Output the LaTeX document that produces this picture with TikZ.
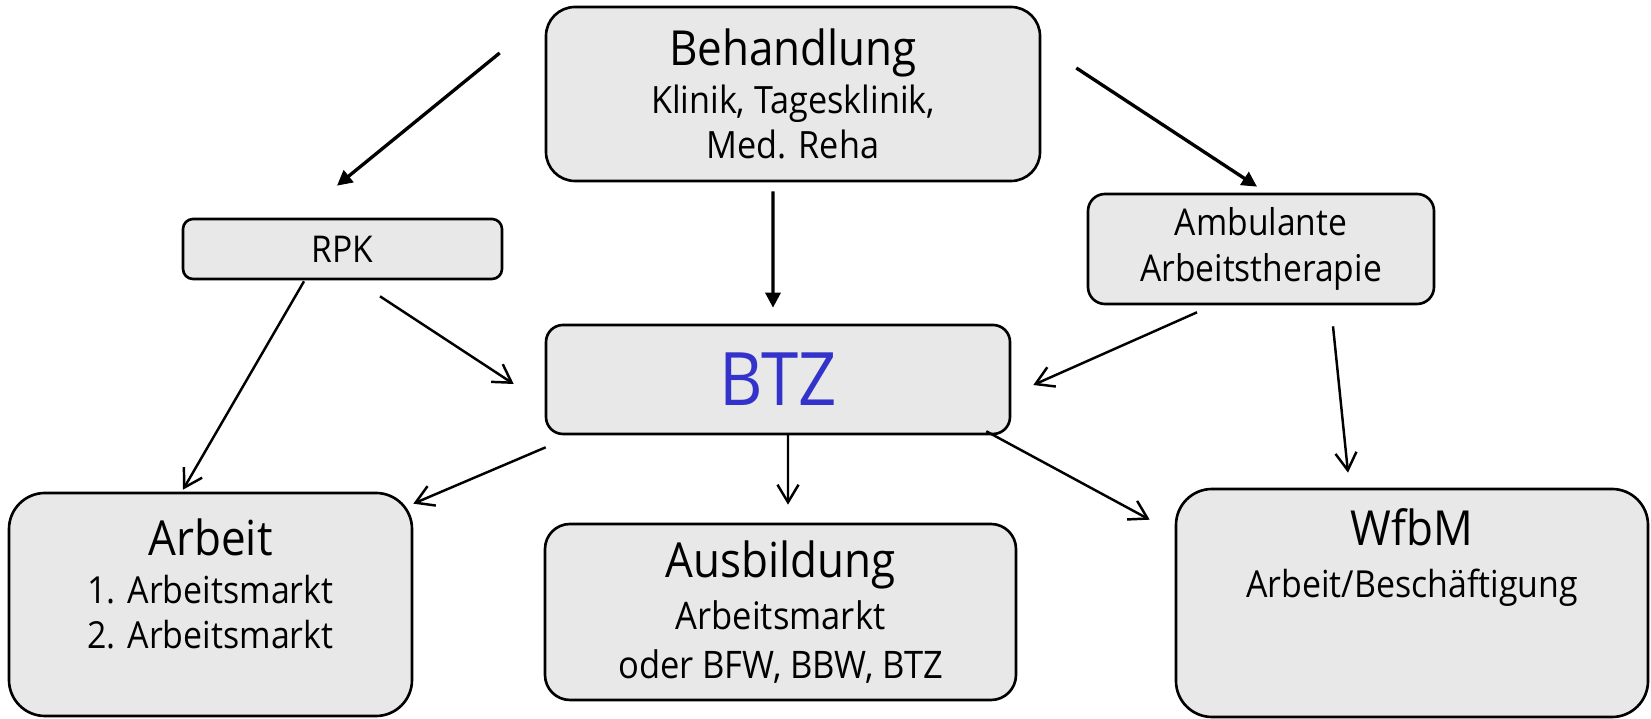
\documentclass[tikz,border=0pt]{standalone}
\usepackage{fontspec}
\setmainfont[FakeStretch=0.91]{Open Sans}
\usepackage{tikz}
\usepackage{xcolor}
\usetikzlibrary{arrows.meta}
\definecolor{boxgray}{RGB}{232,232,232}
\definecolor{btzblue}{RGB}{51,51,204}

\begin{document}
\begin{tikzpicture}[every node/.style={font=\fontsize{10.7}{13}\selectfont},
  box/.style={draw,line width=0.75pt,fill=boxgray,inner sep=0pt,align=center},
  mainarr/.style={line width=0.95pt,-{Triangle[length=4.3pt,width=4.3pt]}},
  subarr/.style={line width=0.7pt,-{Straight Barb[length=5pt,width=6pt]}}]
\useasboundingbox (0,0) rectangle (16.51,7.19);
\node[box,rounded corners=0.29cm,minimum width=4.94cm,minimum height=1.74cm] (beh) at (7.93,6.25) {{\fontsize{13.75}{16}\selectfont Behandlung}\\[0.6pt]Klinik, Tagesklinik,\\Med. Reha};
\node[box,rounded corners=0.10cm,minimum width=3.19cm,minimum height=0.60cm,font=\fontsize{10.5}{13}\selectfont] (rpk) at (3.425,4.70) {RPK};
\node[box,rounded corners=0.17cm,minimum width=3.46cm,minimum height=1.10cm,font=\fontsize{10.5}{13}\selectfont] (amb) at (12.61,4.70) {Ambulante\\Arbeitstherapie};
\node[box,rounded corners=0.17cm,minimum width=4.64cm,minimum height=1.09cm,text=btzblue,font=\fontsize{21}{24}\selectfont] (btz) at (7.78,3.395) {BTZ};
\node[box,rounded corners=0.36cm,minimum width=4.03cm,minimum height=2.23cm,text depth=12pt,font=\fontsize{10.6}{12.6}\selectfont] (arb) at (2.105,1.145) {{\fontsize{13.75}{16}\selectfont Arbeit}\\[1.2pt]1. Arbeitsmarkt\\2. Arbeitsmarkt};
\node[box,rounded corners=0.25cm,minimum width=4.71cm,minimum height=1.76cm,font=\fontsize{10.8}{14}\selectfont] (ausb) at (7.805,1.07) {{\fontsize{13.75}{16}\selectfont Ausbildung}\\[0.8pt]Arbeitsmarkt\\oder BFW, BBW, BTZ};
\node[box,rounded corners=0.36cm,minimum width=4.72cm,minimum height=2.28cm,text depth=28.6pt,font=\fontsize{10.6}{14.8}\selectfont] (wfbm) at (14.12,1.16) {{\fontsize{13.75}{16}\selectfont WfbM}\\Arbeit/Beschäftigung};
\draw[mainarr] ([shift={(-0.45,0.41)}]beh.west) -- ([shift={(-0.055,0.32)}]rpk.north);
\draw[mainarr] ([shift={(-0.20,-0.09)}]beh.south) -- ([shift={(-0.05,0.16)}]btz.north);
\draw[mainarr] ([shift={(0.35,0.26)}]beh.east) -- ([shift={(-0.04,0.06)}]amb.north);
\draw[subarr] ([shift={(-0.385,-0.01)}]rpk.south) -- ([shift={(-0.275,0.02)}]arb.north);
\draw[subarr] ([shift={(0.375,-0.16)}]rpk.south) -- ([shift={(-0.31,-0.045)}]btz.west);
\draw[subarr] ([shift={(-0.64,-0.07)}]amb.south) -- ([shift={(0.22,-0.055)}]btz.east);
\draw[subarr] ([shift={(0.72,-0.21)}]amb.south) -- ([shift={(-0.64,0.15)}]wfbm.north);
\draw[subarr] ([shift={(0.01,-0.12)}]btz.south west) -- ([shift={(0,-0.12)}]arb.north east);
\draw[subarr] ([shift={(0.10,0.02)}]btz.south) -- ([shift={(0.075,0.18)}]ausb.north);
\draw[subarr] ([shift={(-0.25,0.04)}]btz.south east) -- ([shift={(-0.25,-0.32)}]wfbm.north west);
\end{tikzpicture}
\end{document}
